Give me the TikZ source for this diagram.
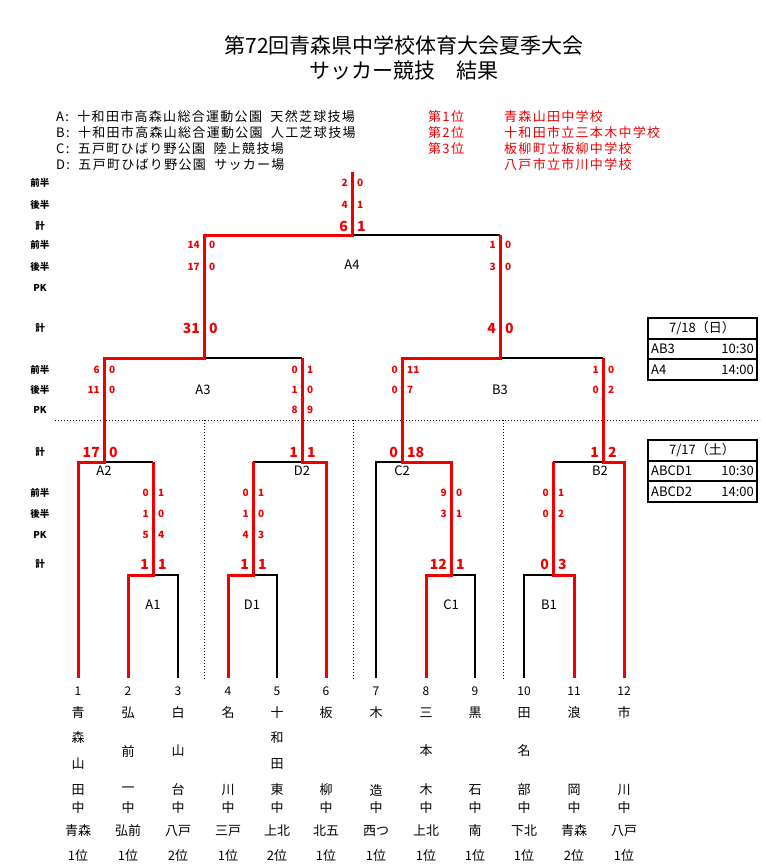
\documentclass[tikz,border=0pt]{standalone}
\usepackage{fontspec}
\setmainfont{Noto Sans CJK JP}
\newfontfamily\spc[LetterSpace=10]{Noto Sans CJK JP}
\definecolor{rd}{RGB}{240,0,0}
\newcommand\pr[5]{%
  \node[sc,font=\fontsize{#5}{#5}\selectfont\bfseries,anchor=east] at (#1-4,#2) {#3};
  \node[sc,font=\fontsize{#5}{#5}\selectfont\bfseries,anchor=west] at (#1+5,#2) {#4};}
\begin{document}
\begin{tikzpicture}[x=1pt,y=-1pt,
  sc/.style={inner sep=0pt,text=rd},
  lab/.style={inner sep=0pt,font=\fontsize{9.5}{9.5}\selectfont\bfseries},
  tx/.style={inner sep=0pt,font=\fontsize{13}{13}\selectfont},
  hd/.style={inner sep=0pt,font=\spc\fontsize{13}{13}\selectfont},
  rl/.style={rd,line width=3pt},
  bl/.style={black,line width=1.6pt},
  dot/.style={black,dotted,line width=1pt}]
\useasboundingbox (0,0) rectangle (777,865);
% title
\node[inner sep=0pt,font=\fontsize{21}{21}\selectfont] (t1) at (404,45) {第72回青森県中学校体育大会夏季大会};
\node[inner sep=0pt,font=\fontsize{21}{21}\selectfont] (t2) at (404,71) {サッカー競技　結果};
% venues
\foreach \t [count=\i] in {A:\ \ 十和田市高森山総合運動公園\ \ 天然芝球技場,B:\ \ 十和田市高森山総合運動公園\ \ 人工芝球技場,C:\ \ 五戸町ひばり野公園\ \ 陸上競技場,D:\ \ 五戸町ひばり野公園\ \ サッカー場}
  \node[hd,anchor=west] (v\i) at (56,101+16*\i) {\t};
\foreach \a/\b [count=\i] in {第1位/青森山田中学校,第2位/十和田市立三本木中学校,第3位/板柳町立板柳中学校,{}/八戸市立市川中学校}{
  \node[hd,anchor=west,text=rd] (r\i) at (428,101+16*\i) {\a};
  \node[hd,anchor=west,text=rd] (s\i) at (504,101+16*\i) {\b};}
% left labels
\foreach \t/\y [count=\i] in {前半/183,後半/205,計/226,前半/245,後半/267,PK/288,計/328,前半/370,後半/390,PK/410,計/452,前半/493,後半/514,PK/535,計/564}
  \node[lab] (L\i) at (40,\y) {\t};
% dotted lines
\draw[dot] (55,420) -- (760,420);
\foreach \x in {204,353,503} \draw[dot] (\x,420) -- (\x,680);
% black bracket
\draw[bl] (178,678)--(178,575)--(153,575);
\draw[bl] (104,462)--(153,462);
\draw[bl] (277,678)--(277,575)--(253,575);
\draw[bl] (253,462)--(302,462);
\draw[bl] (204,358)--(302,358);
\draw[bl] (376,678)--(376,462)--(402,462);
\draw[bl] (475,678)--(475,575)--(451,575);
\draw[bl] (524,678)--(524,575)--(553,575);
\draw[bl] (553,462)--(603,462);
\draw[bl] (500,358)--(603,358);
\draw[bl] (352,235)--(500,235);
% red bracket
\draw[rl] (78,678)--(78,462)--(104,462)--(104,358)--(204,358)--(204,235)--(352,235)--(352,172);
\draw[rl] (128,678)--(128,575)--(153,575)--(153,462);
\draw[rl] (228,678)--(228,575)--(253,575)--(253,462);
\draw[rl] (326,678)--(326,462)--(302,462)--(302,358);
\draw[rl] (426,678)--(426,575)--(451,575)--(451,462)--(402,462)--(402,358)--(500,358)--(500,235);
\draw[rl] (574,678)--(574,575)--(553,575)--(553,462);
\draw[rl] (624,678)--(624,462)--(603,462)--(603,358);
% match labels
\foreach \t/\x/\y in {A4/352/265,A3/203/390,B3/500/390,A2/104/471,D2/302/471,C2/402/471,B2/600/471,A1/153/605,D1/252/605,C1/451/605,B1/549/605}
  \node[tx] (m\t) at (\x,\y) {\t};
% scores
\pr{352}{183}{2}{0}{10} \pr{352}{205}{4}{1}{10} \pr{352}{226}{6}{1}{14}
\pr{204}{245}{14}{0}{10} \pr{204}{267}{17}{0}{10} \pr{204}{328}{31}{0}{14}
\pr{500}{245}{1}{0}{10} \pr{500}{267}{3}{0}{10} \pr{500}{328}{4}{0}{14}
\pr{104}{370}{6}{0}{10} \pr{104}{390}{11}{0}{10}
\pr{302}{370}{0}{1}{10} \pr{302}{390}{1}{0}{10} \pr{302}{410}{8}{9}{10}
\pr{402}{370}{0}{11}{10} \pr{402}{390}{0}{7}{10}
\pr{603}{370}{1}{0}{10} \pr{603}{390}{0}{2}{10}
\pr{104}{452}{17}{0}{14} \pr{302}{452}{1}{1}{14} \pr{402}{452}{0}{18}{14} \pr{603}{452}{1}{2}{14}
\pr{153}{493}{0}{1}{10} \pr{153}{514}{1}{0}{10} \pr{153}{535}{5}{4}{10} \pr{153}{564}{1}{1}{14}
\pr{253}{493}{0}{1}{10} \pr{253}{514}{1}{0}{10} \pr{253}{535}{4}{3}{10} \pr{253}{564}{1}{1}{14}
\pr{451}{493}{9}{0}{10} \pr{451}{514}{3}{1}{10} \pr{451}{564}{12}{1}{14}
\pr{553}{493}{0}{1}{10} \pr{553}{514}{0}{2}{10} \pr{553}{564}{0}{3}{14}
% schedule boxes
\foreach \y/\d/\ra/\ta/\rb/\tb in {318/7\slash18（日）/AB3/10:30/A4/14:00,440/7\slash17（土）/ABCD1/10:30/ABCD2/14:00}{
  \draw[line width=1.6pt] (648,\y) rectangle (757,\y+62);
  \draw[line width=1.6pt] (648,\y+21)--(757,\y+21) (648,\y+41)--(757,\y+41);
  \node[tx] at (702,\y+10.5) {\d};
  \node[tx,anchor=west] at (651,\y+31) {\ra};
  \node[tx,anchor=east] at (754,\y+31) {\ta};
  \node[tx,anchor=west] at (651,\y+51.5) {\rb};
  \node[tx,anchor=east] at (754,\y+51.5) {\tb};}
% teams
\foreach \x/\a/\b/\c/\d/\e/\f/\g [count=\i] in {
 78/青/森/{}/山/田/青森/1位,
 128/弘/{}/前/{}/一/弘前/1位,
 178/白/{}/山/{}/台/八戸/2位,
 228/名/{}/{}/{}/川/三戸/1位,
 277/十/和/{}/田/東/上北/2位,
 326/板/{}/{}/{}/柳/北五/1位,
 376/木/{}/{}/{}/造/西つ/1位,
 426/三/{}/本/{}/木/上北/1位,
 475/黒/{}/{}/{}/石/南/1位,
 524/田/{}/名/{}/部/下北/1位,
 574/浪/{}/{}/{}/岡/青森/2位,
 624/市/{}/{}/{}/川/八戸/1位}{
  \node[tx,font=\fontsize{12}{12}\selectfont] (n\i) at (\x,691) {\i};
  \node[tx] (a\i) at (\x,713) {\a};
  \node[tx] (b\i) at (\x,738) {\b};
  \node[tx] (c\i) at (\x,751) {\c};
  \node[tx] (d\i) at (\x,764) {\d};
  \node[tx] (e\i) at (\x,790) {\e};
  \node[tx] (f\i) at (\x,808) {中};
  \node[tx] (g\i) at (\x,831) {\f};
  \node[tx] (h\i) at (\x,856) {\g};}
\end{tikzpicture}
\end{document}
